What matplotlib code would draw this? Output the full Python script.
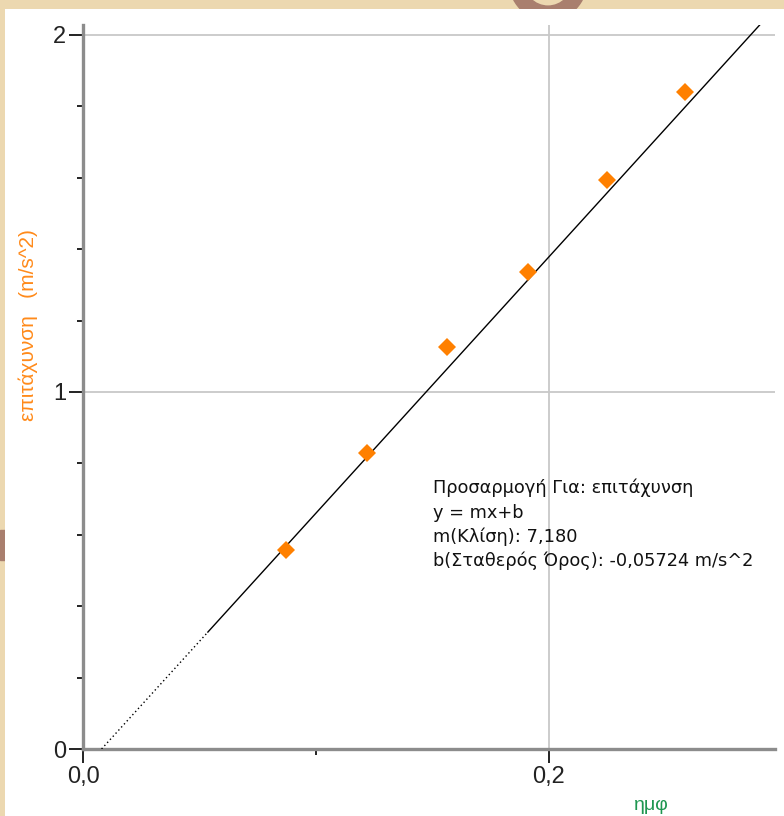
import matplotlib
matplotlib.use('Agg')
import matplotlib.pyplot as plt
from matplotlib.patches import Rectangle, Wedge
import numpy as np

plt.rcParams['font.family'] = ['Liberation Sans', 'DejaVu Sans']

# measured points (ημφ, επιτάχυνση)
sin_phi = [0.0871, 0.1219, 0.1562, 0.1910, 0.2249, 0.2584]
accel   = [0.557, 0.829, 1.126, 1.336, 1.594, 1.840]

# linear fit y = m x + b
m = 7.180
b = -0.05724
fit_x_solid  = [0.0536, 0.2904]
fit_x_dotted = [-b/m, 0.0536]

fit_lines = ["Προσαρμογή Για: επιτάχυνση",
             "y = mx+b",
             "m(Κλίση): 7,180",
             "b(Σταθερός Όρος): -0,05724 m/s^2"]

x_major = [0.0, 0.2]
x_major_labels = ["0,0", "0,2"]
x_minor = [0.1]
y_major = [0, 1, 2]
y_major_labels = ["0", "1", "2"]
y_minor = [0.2, 0.4, 0.6, 0.8, 1.2, 1.4, 1.6, 1.8]

W, H = 784, 816
fig = plt.figure(figsize=(W/100, H/100), dpi=100)
fig.patch.set_facecolor('#ecd8b0')

# decorative bits of the page behind the white panel
fig.patches.append(Wedge((548/W, 1 + 20/H), 0.05, 180, 360, width=0.018,
                         transform=fig.transFigure, color='#a97f6e', zorder=0))
fig.patches.append(Rectangle((0, (816-560)/H), 5/W, 30/H, transform=fig.transFigure,
                             color='#a97f6e', zorder=0))
fig.patches.append(Rectangle((5/W, 0), (W-5)/W, (H-9)/H, transform=fig.transFigure,
                             facecolor='white', edgecolor='none', zorder=1))

x0, x1 = 83, 775
ytop, ybot = 25, 749
ax = fig.add_axes([x0/W, (H-ybot)/H, (x1-x0)/W, (ybot-ytop)/H])
ax.set_facecolor('none')
ax.set_zorder(2)

ax.set_xlim(0, 0.297)
ax.set_ylim(0, 2.028)

ax.spines['top'].set_visible(False)
ax.spines['right'].set_visible(False)
for s in ['left', 'bottom']:
    ax.spines[s].set_color('#8c8c8c')
    ax.spines[s].set_linewidth(2.4)

ax.set_xticks(x_major)
ax.set_xticklabels(x_major_labels)
ax.set_xticks(x_minor, minor=True)
ax.set_yticks(y_major)
ax.set_yticklabels(y_major_labels)
ax.set_yticks(y_minor, minor=True)
ax.tick_params(which='major', direction='out', length=10, width=1.4, color='#222222',
               labelsize=17, labelcolor='#222222', pad=2)
ax.tick_params(which='minor', direction='out', length=4, width=1.4, color='#222222')

ax.grid(True, which='major', color='#c8c8c8', linewidth=1.3)
ax.set_axisbelow(True)

xs = np.array(fit_x_solid)
xd = np.array(fit_x_dotted)
ax.plot(xs, m*xs + b, color='black', lw=1.0, zorder=3)
ax.plot(xd, m*xd + b, color='black', lw=1.0, ls=(0, (1, 2)), zorder=3)
ax.plot(sin_phi, accel, ls='none', marker='D', ms=9.5, color='#ff8000',
        markeredgewidth=0, zorder=4)

for i, line in enumerate(fit_lines):
    fig.text(433/W, 1 - (493 + 24.5*i)/H, line, fontsize=12.8, color='#111111',
             va='baseline', ha='left', family='DejaVu Sans')

fig.text(28/W, 1 - 325/H, "επιτάχυνση   (m/s^2)", rotation=90, color='#ff8a1a',
         fontsize=15, ha='center', va='center')
fig.text(651/W, 1 - 805/H, "ημφ", color='#1e9650', fontsize=14, ha='center',
         va='center')

fig.savefig('out.png', dpi=100, facecolor=fig.get_facecolor())
